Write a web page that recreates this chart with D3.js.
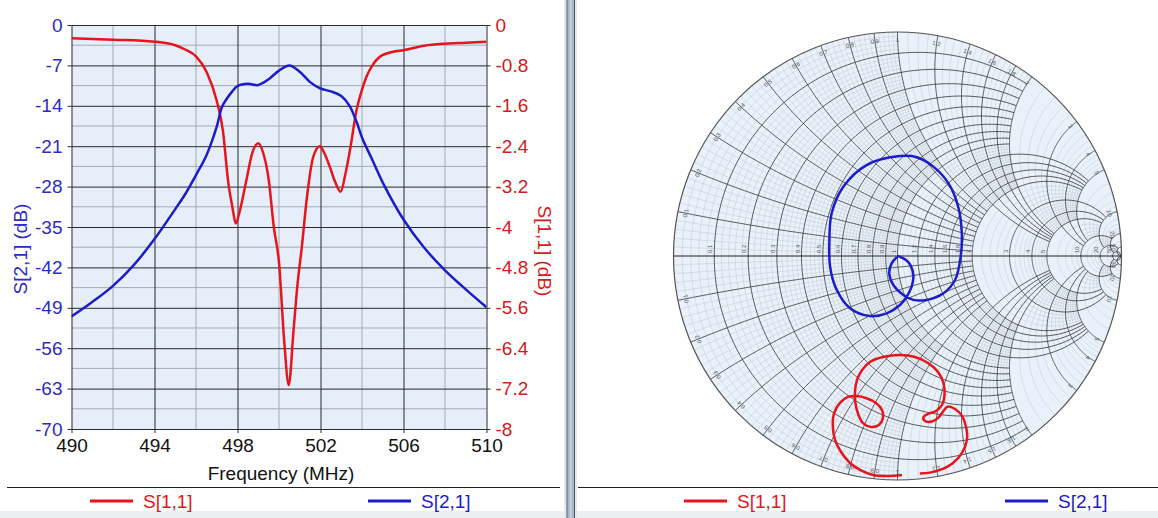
<!DOCTYPE html>
<html>
<head>
<meta charset="utf-8">
<title>S-parameters</title>
<script src="https://d3js.org/d3.v7.min.js"></script>
<style>
  body { margin: 0; background: #fff; }
  svg { display: block; font-family: Arial, "Liberation Sans", sans-serif; }
</style>
</head>
<body>
<svg width="1158" height="518"></svg>
<script>
// values
var s21Freq = [490, 491, 492, 493, 494, 495, 495.5, 496, 496.5, 497, 497.25, 497.5, 497.75, 498, 498.5, 499, 499.5,
               500, 500.5, 501, 501.5, 502, 502.5, 503, 503.4, 503.75, 504, 504.5, 505, 506, 507, 508, 509, 510];
var s21dB = [-50.5, -48.0, -45.2, -41.6, -37.1, -31.9, -29.2, -26.0, -22.6, -17.6, -14.2, -12.7, -11.5, -10.6, -10.2,
             -10.4, -9.4, -7.9, -7.0, -8.1, -9.9, -11.0, -11.5, -12.3, -14.0, -16.9, -19.5, -23.4, -27.3, -33.7,
             -38.6, -42.5, -45.8, -48.9];

var s11Freq = [490, 492, 494, 495, 495.5, 496, 496.5, 497, 497.3, 497.55, 497.75, 497.92, 498.1, 498.44, 498.7, 499,
               499.25, 499.5, 499.75, 500, 500.25, 500.47, 500.7, 500.9, 501.1, 501.33, 501.65, 501.97, 502.2, 502.45,
               502.7, 502.97, 503.2, 503.42, 503.74, 504, 504.22, 504.5, 504.86, 505.5, 506, 507, 508, 509, 510];
var s11dB = [-0.26, -0.29, -0.33, -0.40, -0.49, -0.62, -0.92, -1.5, -2.1, -3.1, -3.6, -3.93, -3.7, -3.05, -2.55, -2.34,
             -2.55, -3.05, -4.0, -4.7, -6.25, -7.13, -6.05, -5.1, -4.4, -3.47, -2.61, -2.40, -2.55, -2.81,
             -3.1, -3.3, -2.95, -2.48, -1.68, -1.28, -1.02, -0.80, -0.63, -0.53, -0.50, -0.41, -0.37, -0.35, -0.33];

var freqTicks = [490, 494, 498, 502, 506, 510];
var s21Ticks = [0, -7, -14, -21, -28, -35, -42, -49, -56, -63, -70];
var s11Ticks = [0, -0.8, -1.6, -2.4, -3.2, -4, -4.8, -5.6, -6.4, -7.2, -8];

// Smith chart traces (reflection coefficient, real / imaginary)
var s21Re = [0.002, 0.038, 0.060, 0.071, 0.063, 0.041, 0.011, -0.048, -0.123, -0.212, -0.271, -0.301, -0.304, -0.294,
             -0.242, -0.138, 0.011, 0.086, 0.160, 0.227, 0.271, 0.287, 0.282, 0.257, 0.204, 0.130, 0.071, 0.026,
             -0.019, -0.037, -0.026, -0.002];
var s21Im = [0.000, -0.018, -0.045, -0.092, -0.137, -0.182, -0.219, -0.256, -0.268, -0.233, -0.152, -0.048, 0.071, 0.191,
             0.309, 0.406, 0.446, 0.441, 0.399, 0.325, 0.220, 0.101, -0.003, -0.107, -0.167, -0.196, -0.196, -0.174,
             -0.129, -0.077, -0.033, -0.004];
var s11Re = [0.020, -0.042, -0.109, -0.167, -0.212, -0.252, -0.279, -0.289, -0.283, -0.257, -0.221, -0.181, -0.141,
             -0.096, -0.069, -0.065, -0.083, -0.118, -0.154, -0.176, -0.188, -0.190, -0.181, -0.158, -0.123, -0.065,
             0.011, 0.078, 0.136, 0.181, 0.205, 0.210, 0.199, 0.172, 0.136, 0.116, 0.123, 0.154, 0.185, 0.208, 0.225,
             0.257, 0.288, 0.306, 0.310, 0.288, 0.248, 0.190, 0.145, 0.100];
var s11Im = [-0.978, -0.982, -0.978, -0.955, -0.924, -0.875, -0.821, -0.754, -0.701, -0.656, -0.629, -0.625, -0.634,
             -0.656, -0.688, -0.723, -0.754, -0.763, -0.746, -0.705, -0.656, -0.607, -0.554, -0.509, -0.473, -0.451,
             -0.442, -0.451, -0.478, -0.518, -0.567, -0.621, -0.665, -0.692, -0.705, -0.719, -0.737, -0.739, -0.719,
             -0.688, -0.672, -0.683, -0.714, -0.763, -0.821, -0.879, -0.924, -0.955, -0.967, -0.971];

var red = "#e8141c", blue = "#1c1cc8";
var svg = d3.select("svg");

// ---------------- left panel: dB vs frequency ----------------
var x = d3.scaleLinear().domain([490, 510]).range([71.5, 486.5]),
    yL = d3.scaleLinear().domain([-70, 0]).range([429, 25]),
    yR = d3.scaleLinear().domain([-8, 0]).range([429, 25]);

var plot = svg.append("g");
plot.append("rect").attr("x", 71.5).attr("y", 25).attr("width", 415).attr("height", 404).attr("fill", "#e6eef9");

// minor grid
plot.append("g").selectAll("line").data(d3.range(492, 510, 4)).enter().append("line")
    .attr("x1", d => x(d)).attr("x2", d => x(d)).attr("y1", 25).attr("y2", 429)
    .attr("stroke", "#a4abb5").attr("stroke-width", 1);
plot.append("g").selectAll("line").data(d3.range(-66.5, 0, 7)).enter().append("line")
    .attr("x1", 71.5).attr("x2", 486.5).attr("y1", d => yL(d)).attr("y2", d => yL(d))
    .attr("stroke", "#a4abb5").attr("stroke-width", 1);

// major grid
plot.append("g").call(d3.axisBottom(x).tickValues(freqTicks).tickSize(-404).tickFormat(""))
    .attr("transform", "translate(0,429)")
    .call(g => g.select(".domain").remove())
    .selectAll("line").attr("stroke", "#2a2a2a");
plot.append("g").call(d3.axisLeft(yL).tickValues(s21Ticks).tickSize(-415).tickFormat(""))
    .attr("transform", "translate(71.5,0)")
    .call(g => g.select(".domain").remove())
    .selectAll("line").attr("stroke", "#2a2a2a");

// curves
var clip = svg.append("clipPath").attr("id", "plotclip");
clip.append("rect").attr("x", 71.5).attr("y", 25).attr("width", 415).attr("height", 404);

var s11Line = d3.line().curve(d3.curveMonotoneX).x(d => x(d[0])).y(d => yR(d[1]));
var s21Line = d3.line().curve(d3.curveCatmullRom.alpha(0.5)).x(d => x(d[0])).y(d => yL(d[1]));
plot.append("path").datum(d3.zip(s11Freq, s11dB)).attr("d", s11Line)
    .attr("fill", "none").attr("stroke", red).attr("stroke-width", 2.5).attr("clip-path", "url(#plotclip)");
plot.append("path").datum(d3.zip(s21Freq, s21dB)).attr("d", s21Line)
    .attr("fill", "none").attr("stroke", blue).attr("stroke-width", 2.5).attr("clip-path", "url(#plotclip)");

// axes with labels
var fmt = d => String(d);
var axB = plot.append("g").attr("transform", "translate(0,429)")
    .call(d3.axisBottom(x).tickValues(freqTicks).tickSize(4).tickPadding(6).tickFormat(fmt));
var axL = plot.append("g").attr("transform", "translate(71.5,0)")
    .call(d3.axisLeft(yL).tickValues(s21Ticks).tickSize(4).tickPadding(5).tickFormat(fmt));
var axR = plot.append("g").attr("transform", "translate(486.5,0)")
    .call(d3.axisRight(yR).tickValues(s11Ticks).tickSize(4).tickPadding(5).tickFormat(fmt));
[axB, axL, axR].forEach(a => {
  a.select(".domain").remove();
  a.selectAll("line").attr("stroke", "#2a2a2a");
  a.selectAll("text").attr("font-size", 19).attr("font-family", "Arial, 'Liberation Sans', sans-serif");
});
axB.selectAll("text").attr("fill", "#111");
axL.selectAll("text").attr("fill", "#2c2cc4");
axR.selectAll("text").attr("fill", "#d41a1a");

svg.append("text").attr("transform", "translate(27,249) rotate(-90)").attr("text-anchor", "middle")
    .attr("font-size", 19).attr("fill", "#2c2cc4").text("S[2,1] (dB)");
svg.append("text").attr("transform", "translate(538,251) rotate(90)").attr("text-anchor", "middle")
    .attr("font-size", 19).attr("fill", "#d41a1a").text("S[1,1] (dB)");
svg.append("text").attr("x", 281).attr("y", 480).attr("text-anchor", "middle")
    .attr("font-size", 19).attr("fill", "#111").text("Frequency (MHz)");

// ---------------- right panel: Smith chart ----------------
var cx = 897.5, cy = 256, R = 224;
var sx = d3.scaleLinear().domain([-1, 1]).range([cx - R, cx + R]),
    sy = d3.scaleLinear().domain([-1, 1]).range([cy + R, cy - R]);
var smithLine = d3.line().x(d => sx(d[0])).y(d => sy(d[1]));

function gam(r, xx) {
  var den = (r + 1) * (r + 1) + xx * xx;
  return [(r * r + xx * xx - 1) / den, 2 * xx / den];
}
function rCircle(r, lim) {
  var a = Math.atan(lim);
  return d3.range(0, 241).map(i => gam(r, Math.tan(-a + 2 * a * i / 240)));
}
function xArc(xx, lim) {
  var a = Math.atan(lim);
  return d3.range(0, 161).map(i => gam(Math.tan(a * i / 160), xx));
}

// [from, to, major step, minor step, major limit, minor limit]
var gridBands = [
  [0, 1, 0.1, 0.02, 2, 1],
  [1, 2, 0.2, 0.05, 5, 2],
  [2, 5, 1, 0.2, 10, 5],
  [5, 10, 5, 1, 20, 10],
  [10, 20, 10, 2, 50, 20],
  [20, 50, 30, 10, Infinity, 50]
];
var majors = [], minors = [];
gridBands.forEach(b => {
  var n = Math.round((b[1] - b[0]) / b[3]);
  for (var k = 1; k <= n; k++) {
    var v = +(b[0] + k * b[3]).toFixed(4);
    var q = (v - b[0]) / b[2];
    if (Math.abs(q - Math.round(q)) < 1e-6) majors.push({v: v, lim: b[4]});
    else minors.push({v: v, lim: b[5]});
  }
});

var smith = svg.append("g");
smith.append("circle").attr("cx", cx).attr("cy", cy).attr("r", R).attr("fill", "#e9f1fa");

function drawGrid(list, color, width) {
  var g = smith.append("g").attr("fill", "none").attr("stroke", color).attr("stroke-width", width);
  list.forEach(d => {
    g.append("path").attr("d", smithLine(rCircle(d.v, d.lim)));
    g.append("path").attr("d", smithLine(xArc(d.v, d.lim)));
    g.append("path").attr("d", smithLine(xArc(-d.v, d.lim)));
  });
}
drawGrid(minors, "#bcc2cc", 0.45);
drawGrid(majors, "#333", 0.8);
smith.append("line").attr("x1", sx(-1)).attr("x2", sx(1)).attr("y1", cy).attr("y2", cy)
    .attr("stroke", "#222").attr("stroke-width", 1);
smith.append("circle").attr("cx", cx).attr("cy", cy).attr("r", R)
    .attr("fill", "none").attr("stroke", "#555").attr("stroke-width", 1.2);

// small grid labels
var lab = smith.append("g").attr("font-size", 6).attr("fill", "#555");
majors.forEach(d => {
  var p = gam(d.v, 0);
  lab.append("text").attr("transform", "translate(" + (sx(p[0]) - 2) + "," + (cy - 3) + ") rotate(-90)")
      .text(d.v);
  [1, -1].forEach(s => {
    var q = gam(0, s * d.v), ang = Math.atan2(q[1], q[0]);
    var px = sx(0.955 * Math.cos(ang)), py = sy(0.955 * Math.sin(ang));
    lab.append("text").attr("text-anchor", "middle")
        .attr("transform", "translate(" + px + "," + py + ") rotate(" + (90 - ang * 180 / Math.PI) + ")")
        .text(d.v);
  });
});

var smoothLine = d3.line().curve(d3.curveCatmullRom.alpha(0.5)).x(d => sx(d[0])).y(d => sy(d[1]));
smith.append("path").datum(d3.zip(s11Re, s11Im)).attr("d", smoothLine)
    .attr("fill", "none").attr("stroke", red).attr("stroke-width", 2.5);
smith.append("path").datum(d3.zip(s21Re, s21Im)).attr("d", smoothLine)
    .attr("fill", "none").attr("stroke", blue).attr("stroke-width", 2.5);

// ---------------- legends, frame, splitter ----------------
svg.append("line").attr("x1", 7).attr("x2", 560).attr("y1", 487.5).attr("y2", 487.5).attr("stroke", "#222");
svg.append("line").attr("x1", 578).attr("x2", 1158).attr("y1", 487.5).attr("y2", 487.5).attr("stroke", "#222");
svg.append("rect").attr("x", 0).attr("y", 511).attr("width", 1158).attr("height", 7).attr("fill", "#eceef2");

var legendItems = [
  {name: "S[1,1]", color: red, x: 90},
  {name: "S[2,1]", color: blue, x: 368},
  {name: "S[1,1]", color: red, x: 684},
  {name: "S[2,1]", color: blue, x: 1005}
];
var leg = svg.append("g").selectAll("g").data(legendItems).enter().append("g")
    .attr("transform", d => "translate(" + d.x + ",501)");
leg.append("line").attr("x1", 0).attr("x2", 43).attr("stroke", d => d.color).attr("stroke-width", 3);
leg.append("text").attr("x", 53).attr("y", 7).attr("font-size", 19).attr("fill", d => d.color).text(d => d.name);

// splitter between the two panes
svg.append("rect").attr("x", 564).attr("y", 0).attr("width", 13).attr("height", 518).attr("fill", "#e4e9f0");
svg.append("rect").attr("x", 567.5).attr("y", 0).attr("width", 6.5).attr("height", 518).attr("fill", "#a9b8c9");
svg.append("line").attr("x1", 567).attr("x2", 567).attr("y1", 0).attr("y2", 518).attr("stroke", "#4a5563");
svg.append("line").attr("x1", 574.5).attr("x2", 574.5).attr("y1", 0).attr("y2", 518).attr("stroke", "#4a5563");
svg.append("line").attr("x1", 570.8).attr("x2", 570.8).attr("y1", 0).attr("y2", 518).attr("stroke", "#dde5ee");
</script>
</body>
</html>
